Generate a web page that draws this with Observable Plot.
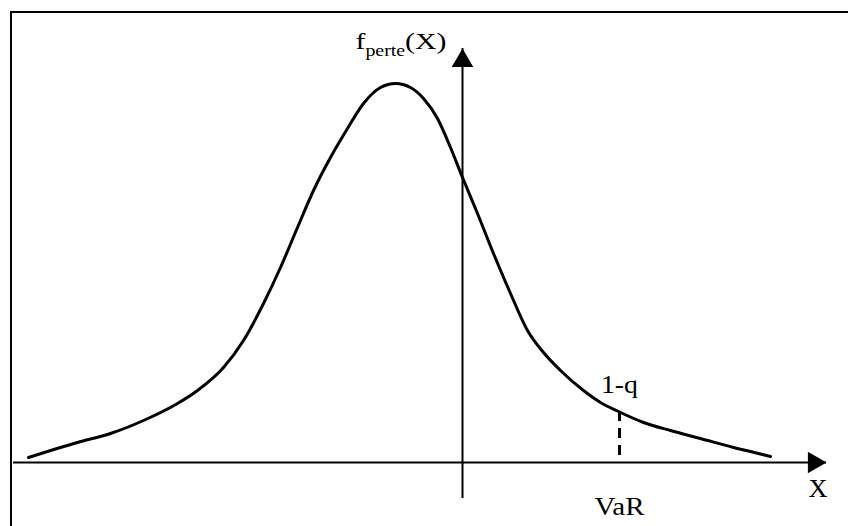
<!DOCTYPE html>
<html><head><meta charset="utf-8">
<script src="https://cdn.jsdelivr.net/npm/d3@7"></script>
<script src="https://cdn.jsdelivr.net/npm/@observablehq/plot@0.6"></script>
<style>
html,body{margin:0;padding:0;background:#fff;overflow:hidden;width:848px;height:526px;}
#chart{position:absolute;left:0;top:0;z-index:1;}
#box{position:absolute;left:10px;top:11px;width:900px;height:600px;border:2px solid #000;box-sizing:border-box;z-index:2;pointer-events:none;}
</style></head><body>
<div id="chart"></div>
<div id="box"></div>
<script>
// Loss values (x) and the loss density f_perte(X)
const lossX   = [-4.34,-3.85,-3.52,-3.19,-2.85,-2.65,-2.39,-2.19,-1.99,-1.82,-1.65,-1.49,-1.32,-1.15,-0.99,-0.82,-0.67,-0.52,-0.39,-0.25,-0.12,0.00,0.15,0.31,0.48,0.65,0.81,0.98,1.21,1.38,1.56,1.81,2.08,2.38,2.71,2.88,3.08];
const density = [0.005,0.020,0.029,0.042,0.059,0.072,0.095,0.122,0.159,0.195,0.235,0.272,0.305,0.334,0.359,0.375,0.379,0.375,0.364,0.344,0.315,0.285,0.249,0.209,0.169,0.132,0.110,0.092,0.072,0.060,0.051,0.040,0.032,0.024,0.015,0.011,0.006];

// VaR quantile and the density there
const varX = 1.57;
const varDensity = 0.051;

// Axis extents and view domains
const xAxisExtent = [-4.49, 3.64];
const yAxisExtent = [-0.036, 0.414];
const xDomain = [-4.62, 3.86];
const yDomain = [-0.064, 0.462];

// Labels
const yLabel = {main: "f", sub: "perte", tail: "(X)"};
const yLabelPos = {x: -1.07, y: 0.414};
const qLabel = {text: "1-q", y: 0.078};
const varLabel = {text: "VaR", y: -0.044};
const xLabel = {text: "X", x: 3.555, y: -0.026};
const labelWidths = {"1-q": 37, "VaR": 50, "X": 19, "f": 91};

const curve = lossX.map((x, i) => ({x, y: density[i]}));
const serif = "'Liberation Serif', 'Times New Roman', serif";

const chart = Plot.plot({
  width: 848, height: 526,
  marginTop: 0, marginRight: 0, marginBottom: 0, marginLeft: 0,
  x: {domain: xDomain, axis: null},
  y: {domain: yDomain, axis: null},
  style: {background: "white"},
  marks: [
    Plot.ruleY([0], {x1: xAxisExtent[0], x2: xAxisExtent[1], stroke: "black", strokeWidth: 2}),
    Plot.ruleX([0], {y1: yAxisExtent[0], y2: yAxisExtent[1], stroke: "black", strokeWidth: 2}),
    Plot.dot([{x: xAxisExtent[1], y: 0}], {x: "x", y: "y", symbol: "triangle", r: 8, fill: "black", stroke: "none", rotate: 90, dx: -12.4}),
    Plot.dot([{x: 0, y: yAxisExtent[1]}], {x: "x", y: "y", symbol: "triangle", r: 8, fill: "black", stroke: "none", rotate: 0, dy: 12.4}),
    Plot.line(curve, {x: "x", y: "y", curve: "monotone-x", stroke: "black", strokeWidth: 3}),
    Plot.ruleX([varX], {y1: varDensity, y2: 0, stroke: "black", strokeWidth: 3, strokeDasharray: "10,7"}),
    Plot.text([qLabel], {x: () => varX, y: "y", text: "text", fontFamily: serif, fontSize: 26, fill: "black", textAnchor: "middle"}),
    Plot.text([varLabel], {x: () => varX, y: "y", text: "text", fontFamily: serif, fontSize: 26, fill: "black", textAnchor: "middle"}),
    Plot.text([xLabel], {x: "x", y: "y", text: "text", fontFamily: serif, fontSize: 26, fill: "black", textAnchor: "middle"}),
    Plot.text([yLabelPos], {x: "x", y: "y", text: () => yLabel.main, fontFamily: serif, fontSize: 24, fill: "black", textAnchor: "start", lineAnchor: "bottom"})
  ]
});
document.getElementById("chart").appendChild(chart);

const ns = "http://www.w3.org/2000/svg";
chart.querySelectorAll("text").forEach(t => {
  const key = t.textContent;
  const isY = key === yLabel.main;
  t.style.fontFamily = serif;
  t.style.fontSize = isY ? "24px" : "26px";
  if (isY) {
    const s1 = document.createElementNS(ns, "tspan");
    s1.style.fontSize = "16px";
    s1.setAttribute("dy", "7");
    s1.textContent = yLabel.sub;
    const s2 = document.createElementNS(ns, "tspan");
    s2.style.fontSize = "24px";
    s2.setAttribute("dy", "-7");
    s2.textContent = yLabel.tail;
    t.appendChild(s1);
    t.appendChild(s2);
  }
  if (labelWidths[key]) {
    t.setAttribute("textLength", labelWidths[key]);
    t.setAttribute("lengthAdjust", "spacingAndGlyphs");
  }
});
</script>
</body></html>
